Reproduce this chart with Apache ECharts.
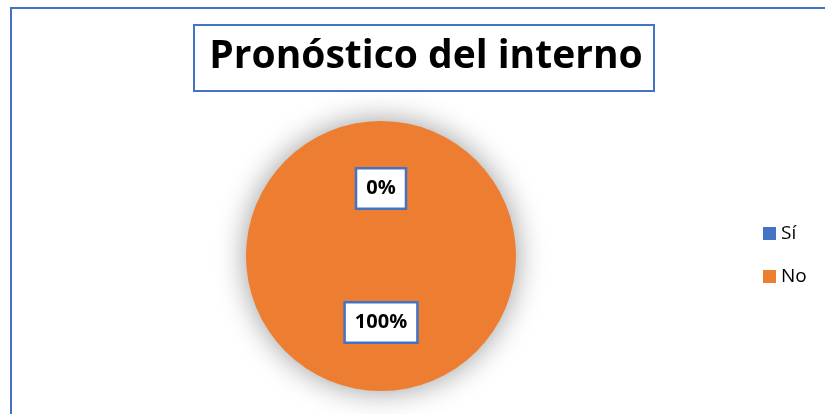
<!DOCTYPE html>
<html>
<head>
<meta charset="utf-8">
<script src="https://cdn.jsdelivr.net/npm/echarts@6/dist/echarts.min.js"></script>
<style>
  html, body { margin: 0; padding: 0; background: #fff; }
  #chart { width: 825px; height: 414px; }
</style>
</head>
<body>
<div id="chart"></div>
<script>
// categorias y valores del grafico
var categorias = ['Sí', 'No'];
var valores = [0, 100];
var colores = ['#4472C4', '#ED7D31'];
var desplazamientos = [[0, 3], [0, -4]]; /* ajuste fino de etiquetas */

var myChart = echarts.init(document.getElementById('chart'));

var datos = [];
for (var i = 0; i < categorias.length; i++) {
    datos.push({
        name: categorias[i],
        value: valores[i],
        itemStyle: { color: colores[i] },
        label: { offset: desplazamientos[i] }
    });
}

var option = {
    backgroundColor: '#fff',
    title: {
        text: 'Pronóstico del interno',
        left: 426,
        top: 37,
        textAlign: 'center',
        padding: 0,
        textStyle: {
            fontFamily: 'Open Sans',
            fontWeight: 'bold',
            fontSize: 39,
            color: '#000'
        }
    },
    graphic: [
        {
            type: 'rect',
            shape: { x: 11, y: 8, width: 840, height: 440 },
            style: { fill: 'none', stroke: '#4472C4', lineWidth: 2 },
            silent: true
        },
        {
            type: 'rect',
            shape: { x: 194, y: 25, width: 460, height: 66 },
            style: { fill: 'none', stroke: '#4472C4', lineWidth: 2 },
            silent: true
        }
    ],
    legend: {
        orient: 'vertical',
        left: 763,
        top: 224,
        padding: 0,
        icon: 'rect',
        itemWidth: 13,
        itemHeight: 13,
        itemGap: 24,
        data: categorias,
        textStyle: {
            fontFamily: 'Open Sans',
            fontSize: 19,
            color: '#000'
        }
    },
    series: [{
        type: 'pie',
        center: [381, 256],
        radius: [0, 135],
        startAngle: 90,
        clockwise: true,
        percentPrecision: 0,
        avoidLabelOverlap: false,
        animation: false,
        itemStyle: {
            shadowBlur: 30,
            shadowColor: 'rgba(0,0,0,0.4)'
        },
        label: {
            show: true,
            position: 'inside',
            formatter: '{d}%',
            fontFamily: 'Open Sans',
            fontWeight: 'bold',
            fontSize: 20,
            color: '#000',
            backgroundColor: '#fff',
            borderColor: '#4472C4',
            borderWidth: 2.5,
            padding: [10, 9, 8, 9]
        },
        labelLine: { show: false },
        emphasis: { disabled: true },
        data: datos
    }]
};

myChart.setOption(option);
</script>
</body>
</html>
